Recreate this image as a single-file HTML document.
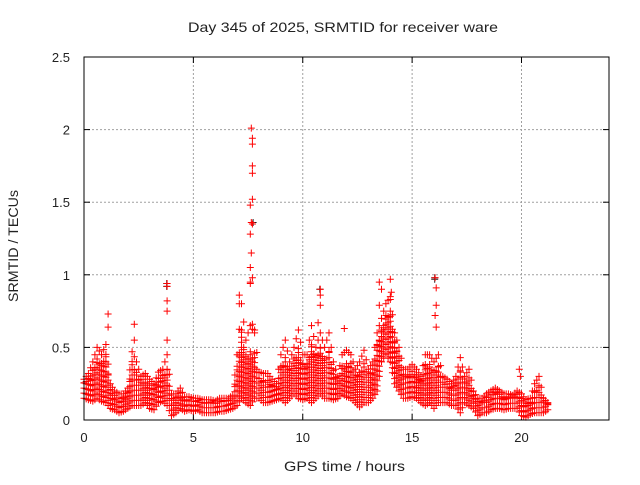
<!DOCTYPE html>
<html><head><meta charset="utf-8"><style>
body{margin:0;background:#fff}
svg text{font-family:"Liberation Sans",sans-serif;fill:#222}
</style></head><body>
<svg id="chart" width="640" height="480" xmlns="http://www.w3.org/2000/svg">
<rect width="640" height="480" fill="#fff"/>
<text x="188" y="32" font-size="14" textLength="310" lengthAdjust="spacingAndGlyphs">Day 345 of 2025, SRMTID for receiver ware</text>
<text transform="translate(18,246) rotate(-90)" font-size="14" text-anchor="middle" textLength="112" lengthAdjust="spacingAndGlyphs">SRMTID / TECUs</text>
<text x="284" y="471" font-size="14" textLength="121" lengthAdjust="spacingAndGlyphs">GPS time / hours</text>
<g id="grid"></g><g id="ticks"></g><g id="pts"></g>
<rect x="84" y="57" width="525" height="363" fill="none" stroke="#000" stroke-width="1"/>
</svg>
<script>
const xTicks=[0,5,10,15,20];
const yTicks=[0,0.5,1,1.5,2,2.5];
const yTickLabels=["0","0.5","1","1.5","2","2.5"];
const tStep=0.2;
const lo=[.15,.14,.13,.15,.13,.12,.08,.07,.05,.06,.08,.10,.10,.10,.12,.08,.07,.12,.13,.10,.03,.05,.08,.06,.07,.06,.07,.05,.05,.05,.05,.06,.06,.07,.08,.10,.15,.12,.10,.15,.15,.12,.12,.13,.14,.15,.12,.15,.18,.15,.14,.15,.12,.15,.18,.15,.15,.14,.15,.18,.16,.15,.12,.09,.12,.12,.15,.20,.40,.45,.40,.25,.20,.15,.15,.16,.15,.12,.10,.12,.08,.12,.12,.12,.10,.10,.05,.12,.10,.08,.03,.05,.05,.07,.08,.08,.07,.08,.08,.08,.03,.02,.04,.05,.05,.05,.07];
const mid=[.22,.24,.25,.30,.30,.35,.15,.12,.11,.12,.14,.30,.22,.20,.22,.18,.17,.22,.25,.20,.10,.12,.14,.10,.11,.10,.11,.09,.09,.10,.09,.10,.11,.11,.12,.25,.35,.30,.20,.25,.22,.20,.20,.18,.20,.25,.25,.28,.30,.30,.28,.30,.32,.35,.35,.30,.28,.25,.22,.25,.25,.30,.25,.22,.25,.25,.28,.40,.50,.60,.60,.45,.35,.25,.25,.27,.25,.22,.28,.28,.25,.25,.20,.20,.18,.20,.20,.20,.20,.12,.10,.10,.12,.13,.15,.14,.12,.13,.13,.14,.10,.08,.08,.12,.14,.10,.10];
const hi=[.28,.32,.40,.50,.45,.52,.25,.20,.18,.18,.22,.47,.40,.30,.32,.28,.25,.33,.35,.45,.18,.18,.22,.16,.16,.15,.15,.14,.14,.14,.13,.15,.15,.15,.17,.45,.80,.55,.65,.60,.33,.32,.32,.28,.25,.45,.55,.40,.50,.62,.45,.45,.65,.50,.60,.50,.60,.40,.30,.45,.48,.45,.35,.40,.48,.35,.40,.60,.70,.80,.85,.60,.50,.35,.35,.38,.35,.30,.45,.45,.40,.45,.30,.28,.25,.30,.43,.30,.35,.20,.15,.15,.18,.20,.22,.20,.18,.18,.17,.20,.18,.14,.15,.25,.30,.15,.12];
const spikeT=[1.1,1.1,2.3,2.3,3.8,3.8,3.8,3.8,3.8,7.1,7.1,7.65,7.7,7.7,7.7,7.7,7.7,7.6,7.65,7.7,7.6,7.65,7.6,7.7,7.6,7.6,7.7,7.8,10.7,10.8,10.8,10.8,11.2,11.9,13.5,13.6,13.5,14.0,14.05,14.0,16.05,16.1,16.1,16.05,16.1,19.9,19.95,20.8];
const spikeV=[.73,.64,.66,.55,.94,.92,.82,.75,.55,.86,.80,2.01,1.94,1.90,1.75,1.70,1.52,1.48,1.36,1.35,1.28,1.15,1.05,.98,.95,.94,.66,.62,.67,.90,.86,.79,.60,.63,.95,.90,.79,.97,.88,.83,.98,.91,.79,.72,.64,.35,.30,.30];
const blackT=[3.8,3.8,7.75,10.8,16.05,16.05];
const blackV=[.94,.92,1.36,.90,.98,.97];
const X=t=>84+t*525/24, Y=v=>420-v*363/2.5;
const NS="http://www.w3.org/2000/svg";
const grid=document.getElementById('grid'),ticks=document.getElementById('ticks'),pts=document.getElementById('pts');
function mk(p,tag,at){const e=document.createElementNS(NS,tag);for(const k in at)e.setAttribute(k,at[k]);p.appendChild(e);return e;}
xTicks.forEach(t=>{const x=X(t);
 if(t>0){const g=mk(grid,'line',{x1:x,x2:x,y1:57,y2:420,stroke:'#a0a0a0','stroke-dasharray':'2,2'});
 
 }
 mk(ticks,'line',{x1:x,x2:x,y1:420,y2:414,stroke:'#000'});mk(ticks,'line',{x1:x,x2:x,y1:57,y2:63,stroke:'#000'});
 const l=mk(ticks,'text',{x:x,y:442,'font-size':13,'text-anchor':'middle'});l.textContent=t;
 
 });
yTicks.forEach((v,i)=>{const y=Y(v);
 if(v>0&&v<2.5){const g=mk(grid,'line',{x1:84,x2:609,y1:y,y2:y,stroke:'#a0a0a0','stroke-dasharray':'2,2'});
 
 }
 mk(ticks,'line',{x1:84,x2:90,y1:y,y2:y,stroke:'#000'});mk(ticks,'line',{x1:603,x2:609,y1:y,y2:y,stroke:'#000'});
 const l=mk(ticks,'text',{x:70,y:y+5,'font-size':13,'text-anchor':'end'});l.textContent=yTickLabels[i];
 
 });
let d='';
function cross(t,v){const x=X(t),y=Y(v);return `M${(x-3.5).toFixed(1)} ${y.toFixed(1)}h7M${x.toFixed(1)} ${(y-3.5).toFixed(1)}v7`;}
function fillBand(t,a,b){for(let v=a;v<=b+1e-9;v+=0.035)d+=cross(t,v);d+=cross(t,b);}
lo.forEach((v,i)=>{
 const t=i*tStep;
 fillBand(t,v,mid[i]*0.4+hi[i]*0.6);
 d+=cross(t,hi[i]);
 if(i<lo.length-1){
  const a=(v+lo[i+1])/2,m=(mid[i]+mid[i+1])/2,b=(hi[i]+hi[i+1])/2;
  fillBand(t+tStep/2,a,m*0.5+b*0.5);
  d+=cross(t+tStep/2,b);
 }
});
spikeT.forEach((t,i)=>{d+=cross(t,spikeV[i]);});
let db='';
blackT.forEach((t,i)=>{db+=cross(t-0.02,blackV[i]);});
const pb=mk(pts,'path',{d:db,stroke:'#222','stroke-width':1,fill:'none'});


const pr=mk(pts,'path',{d:d,stroke:'#ff0000','stroke-width':1,fill:'none'});


</script>
</body></html>
